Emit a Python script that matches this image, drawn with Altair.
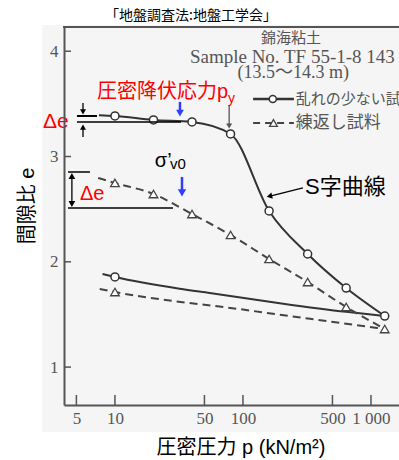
import altair as alt
import pandas as pd

# ---------------- data ----------------
pressures = [10, 20, 40, 80, 160, 320, 640, 1280]           # kN/m2, loading steps
und_load_e = [3.385, 3.347, 3.328, 3.214, 2.483, 2.074, 1.751, 1.485]
und_load_start = [7.5, 3.392]                               # line start before first point
und_unload_p = [8, 10, 32, 55, 200, 640, 1280]
und_unload_e = [1.884, 1.856, 1.745, 1.704, 1.605, 1.525, 1.485]

rem_load_e = [2.749, 2.644, 2.454, 2.255, 2.027, 1.808, 1.571, 1.362]
rem_load_start = [7.4, 2.796]
rem_unload_p = [7.6, 10, 100, 1280]
rem_unload_e = [1.742, 1.713, 1.546, 1.362]

x_ticks = [5, 10, 50, 100, 500, 1000]
y_ticks = [1, 2, 3, 4]

legend_labels = ["乱れの少ない試料", "練返し試料"]

# ---------------- tables ----------------
rows = []
rows.append(dict(s="und", b="load", p=und_load_start[0], e=und_load_start[1], m=False))
for p, e in zip(pressures, und_load_e):
    rows.append(dict(s="und", b="load", p=p, e=e, m=True))
for p, e in zip(und_unload_p, und_unload_e):
    rows.append(dict(s="und", b="unload", p=p, e=e, m=(p == 10)))
rows.append(dict(s="rem", b="load", p=rem_load_start[0], e=rem_load_start[1], m=False))
for p, e in zip(pressures, rem_load_e):
    rows.append(dict(s="rem", b="load", p=p, e=e, m=True))
for p, e in zip(rem_unload_p, rem_unload_e):
    rows.append(dict(s="rem", b="unload", p=p, e=e, m=(p == 10)))
df = pd.DataFrame(rows)

# ---------------- scales / axes ----------------
W, H = 335, 378
SANS = "Liberation Sans, Noto Sans CJK JP"
CJK = "Noto Sans CJK JP"
SERIF = "Liberation Serif"
GRAY = "#555555"
LINE = "#333333"

xs = alt.Scale(type="log", domain=[4.0, 1655], nice=False)
ys = alt.Scale(domain=[0.64, 4.23], nice=False, zero=False)
xaxis = alt.Axis(values=x_ticks, ticks=False, tickSize=0, grid=False, title=None, zindex=1,
                 labelFont=SERIF, labelFontSize=17, labelColor=GRAY, labelPadding=5,
                 labelOverlap=False, labelFlush=False,
                 labelExpr="datum.value == 1000 ? '1 000' : format(datum.value, 'd')",
                 domainColor=GRAY, domainWidth=2)
yaxis = alt.Axis(values=y_ticks, ticks=False, tickSize=0, grid=False, title=None, format="d", zindex=1,
                 labelFont=SERIF, labelFontSize=17, labelColor=GRAY, labelPadding=6,
                 domainColor=GRAY, domainWidth=2)


def X(f="p"):
    return alt.X(f"{f}:Q", scale=xs, axis=xaxis)


def Y(f="e"):
    return alt.Y(f"{f}:Q", scale=ys, axis=yaxis)


one = pd.DataFrame({"k": [0]})
layers = []

# background of the scanned figure and top frame line
layers.append(alt.Chart(one).mark_rect(color="#f5f5f5").encode(
    x=alt.value(-22), x2=alt.value(W), y=alt.value(-2), y2=alt.value(H + 27)))
layers.append(alt.Chart(one).mark_rule(color=GRAY, strokeWidth=2).encode(
    x=alt.value(-1), x2=alt.value(W), y=alt.value(0)))

# inward ticks
layers.append(alt.Chart(pd.DataFrame({"p": x_ticks})).mark_rule(color=GRAY, strokeWidth=1.5).encode(
    x=X(), y=alt.value(H), y2=alt.value(H - 10)))
layers.append(alt.Chart(pd.DataFrame({"e": y_ticks})).mark_rule(color=GRAY, strokeWidth=1.5).encode(
    y=Y(), x=alt.value(0), x2=alt.value(7)))

# curves
base = alt.Chart(df)
layers.append(base.transform_filter("datum.s == 'und'").mark_line(
    color=LINE, strokeWidth=2, interpolate="monotone").encode(x=X(), y=Y(), detail="b:N"))
layers.append(base.transform_filter("datum.s == 'rem'").mark_line(
    color="#444444", strokeWidth=2, strokeDash=[8, 5], interpolate="monotone").encode(
    x=X(), y=Y(), detail="b:N"))
layers.append(base.transform_filter("datum.s == 'und' && datum.m").mark_point(
    shape="circle", size=64, filled=True, fill="white", stroke=LINE, strokeWidth=1.5, opacity=1).encode(
    x=X(), y=Y()))
layers.append(base.transform_filter("datum.s == 'rem' && datum.m").mark_point(
    shape="triangle-up", size=75, filled=True, fill="white", stroke="#444444", strokeWidth=1.3, opacity=1).encode(
    x=X(), y=Y()))

# legend (inside the plot)
leg_line = pd.DataFrame({"p": [120], "p2": [250], "e": [3.546]})
leg_dash = pd.DataFrame({"p": [120], "p2": [250], "e": [3.318]})
layers.append(alt.Chart(leg_line).mark_rule(color=LINE, strokeWidth=2.5).encode(
    x=X(), x2=alt.X2("p2:Q"), y=Y()))
layers.append(alt.Chart(leg_dash).mark_rule(color="#444444", strokeWidth=2, strokeDash=[7, 5]).encode(
    x=X(), x2=alt.X2("p2:Q"), y=Y()))
layers.append(alt.Chart(pd.DataFrame({"p": [171], "e": [3.546]})).mark_point(
    shape="circle", size=50, filled=True, fill="white", stroke=LINE, strokeWidth=1.5, opacity=1).encode(
    x=X(), y=Y()))
layers.append(alt.Chart(pd.DataFrame({"p": [173], "e": [3.318]})).mark_point(
    shape="triangle-up", size=60, filled=True, fill="white", stroke="#444444", strokeWidth=1.3, opacity=1).encode(
    x=X(), y=Y()))
layers.append(alt.Chart(pd.DataFrame({"p": [258], "e": [3.546], "t": [legend_labels[0]]})).mark_text(
    font=CJK, fontSize=15, color=GRAY, align="left", baseline="middle").encode(x=X(), y=Y(), text="t:N"))
layers.append(alt.Chart(pd.DataFrame({"p": [258], "e": [3.318], "t": [legend_labels[1]]})).mark_text(
    font=CJK, fontSize=17, color=GRAY, align="left", baseline="middle").encode(x=X(), y=Y(), text="t:N"))


# annotation helpers
def seg(p1, e1, p2, e2, color="black", width=1.5):
    d = pd.DataFrame({"p": [p1], "e": [e1], "p2": [p2], "e2": [e2]})
    return alt.Chart(d).mark_rule(color=color, strokeWidth=width).encode(
        x=X(), y=Y(), x2=alt.X2("p2:Q"), y2=alt.Y2("e2:Q"))


def head(p, e, shape, size, color="black", angle=0):
    d = pd.DataFrame({"p": [p], "e": [e]})
    return alt.Chart(d).mark_point(shape=shape, size=size, filled=True, color=color,
                                   opacity=1, angle=angle, strokeWidth=0).encode(x=X(), y=Y())


def label(text, p, e, size, color="black", font=SANS, align="left", baseline="middle", angle=0):
    d = pd.DataFrame({"p": [p], "e": [e], "t": [text]})
    return alt.Chart(d).mark_text(fontSize=size, color=color, font=font, align=align,
                                  baseline=baseline, angle=angle).encode(x=X(), y=Y(), text="t:N")


BLUE = "#2f3fff"
RED = "#ff0000"

# delta-e (upper)
layers += [
    seg(5.05, 3.385, 7.24, 3.385, width=2),
    seg(5.05, 3.328, 32.8, 3.328, width=1.5),
    seg(5.63, 3.508, 5.63, 3.43, width=1.3),
    head(5.63, 3.423, "triangle-down", 36),
    seg(5.63, 3.185, 5.63, 3.27, width=1.3),
    head(5.63, 3.28, "triangle-up", 36),
]
# delta-e (lower)
layers += [
    seg(4.3, 2.853, 6.38, 2.853, width=1.5),
    seg(4.3, 2.511, 28.4, 2.511, width=1.5),
    seg(4.61, 2.82, 4.61, 2.545, width=1.3),
    head(4.61, 2.815, "triangle-up", 45),
    head(4.61, 2.549, "triangle-down", 45),
]
# yield stress arrows
layers += [
    seg(32.2, 3.518, 32.2, 3.42, color=BLUE, width=2.5),
    head(32.2, 3.413, "triangle-down", 60, color=BLUE),
    seg(78, 3.489, 78, 3.30, color=GRAY, width=1.3),
    head(78, 3.29, "triangle-down", 36, color=GRAY),
]
# sigma'v0 arrow
layers += [
    seg(33.4, 2.806, 33.4, 2.66, color=BLUE, width=2.5),
    head(33.4, 2.654, "triangle-down", 70, color=BLUE),
]
# S-curve arrow
layers += [
    seg(294, 2.701, 163, 2.623, width=1.3),
    head(161, 2.623, "triangle-left", 40, angle=347),
]

# texts
layers += [
    label("「地盤調査法:地盤工学会」", 39.3, 4.334, 14, font=CJK, align="center"),
    label("錦海粘土", 237, 4.125, 15, color=GRAY, font=CJK, align="center"),
    label("Sample No. TF 55-1-8 143", 38.5, 3.946, 19, color=GRAY, font=SERIF, align="left"),
    label("(13.5～14.3 m)", 247, 3.793, 18, color=GRAY, font=SERIF + ", Noto Sans CJK JP", align="center"),
    label("圧密降伏応力p", 7.23, 3.556, 20, color=RED, baseline="alphabetic"),
    label("y", 76.4, 3.508, 14, color=RED, baseline="alphabetic"),
    label("Δe", 2.74, 3.271, 21, color=RED, baseline="alphabetic"),
    label("Δe", 5.33, 2.587, 20, color=RED, baseline="alphabetic"),
    label("σ’", 20.5, 2.90, 20, baseline="alphabetic"),
    label("v0", 26.9, 2.881, 15, baseline="alphabetic"),
    label("S字曲線", 305, 2.71, 22),
    label("圧密圧力 p (kN/m²)", 96.4, 0.232, 20, align="center"),
    label("間隙比  e", 2.09, 2.53, 20, align="center", angle=270),
]

chart = alt.layer(*layers).properties(
    width=W, height=H,
    autosize=alt.AutoSizeParams(type="none"),
    padding={"left": 64, "top": 27, "right": 0, "bottom": 55},
).configure_view(stroke=None).configure(background="white")

chart.save("out.html", embed_options={"renderer": "svg", "actions": False})
